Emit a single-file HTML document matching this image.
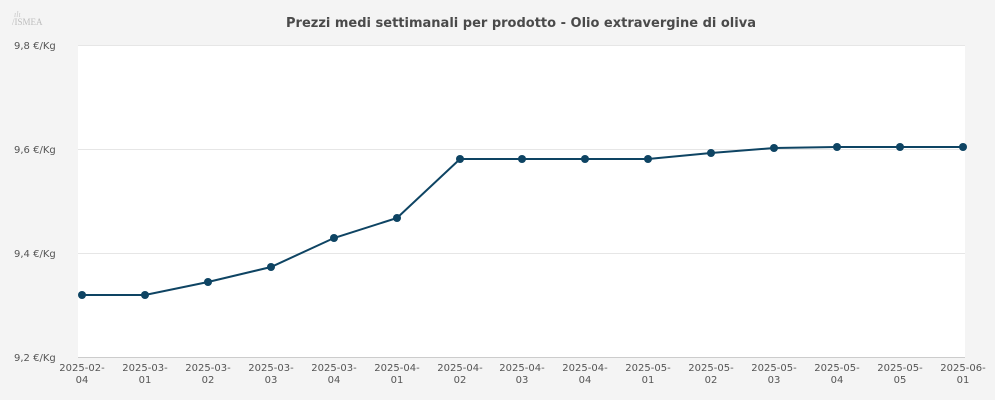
<!DOCTYPE html>
<html><head><meta charset="utf-8"><style>
body{margin:0;background:#f4f4f4;}
svg{display:block;font-family:"DejaVu Sans","Liberation Sans",sans-serif;}
</style></head><body>
<svg width="995" height="400" xmlns="http://www.w3.org/2000/svg">
<rect width="995" height="400" fill="#f4f4f4"/>
<text x="14" y="17" font-size="8" fill="#c8c8c8" font-family="Liberation Serif,serif" font-style="italic">ılı</text>
<text x="12" y="25" font-size="9" fill="#bdbdbd" font-family="Liberation Serif,serif">/ISMEA</text>
<text x="521" y="27" text-anchor="middle" font-size="13" font-weight="bold" fill="#4a4a4a">Prezzi medi settimanali per prodotto - Olio extravergine di oliva</text>
<rect x="78" y="45" width="887" height="312" fill="#fff"/>
<g stroke="#e6e6e6" stroke-width="1">
<line x1="78" y1="45.5" x2="965" y2="45.5"/>
<line x1="78" y1="149.5" x2="965" y2="149.5"/>
<line x1="78" y1="253.5" x2="965" y2="253.5"/>
<line x1="78" y1="357.5" x2="965" y2="357.5" stroke="#ccc"/>
</g>
<g font-size="10" fill="#555">
<text x="14" y="49">9,8 €/Kg</text>
<text x="14" y="153">9,6 €/Kg</text>
<text x="14" y="257">9,4 €/Kg</text>
<text x="14" y="361">9,2 €/Kg</text>
</g>
<g font-size="10" fill="#555" text-anchor="middle">
<text x="82" y="371">2025-02-</text><text x="82" y="383">04</text>
<text x="145" y="371">2025-03-</text><text x="145" y="383">01</text>
<text x="208" y="371">2025-03-</text><text x="208" y="383">02</text>
<text x="271" y="371">2025-03-</text><text x="271" y="383">03</text>
<text x="334" y="371">2025-03-</text><text x="334" y="383">04</text>
<text x="397" y="371">2025-04-</text><text x="397" y="383">01</text>
<text x="460" y="371">2025-04-</text><text x="460" y="383">02</text>
<text x="522" y="371">2025-04-</text><text x="522" y="383">03</text>
<text x="585" y="371">2025-04-</text><text x="585" y="383">04</text>
<text x="648" y="371">2025-05-</text><text x="648" y="383">01</text>
<text x="711" y="371">2025-05-</text><text x="711" y="383">02</text>
<text x="774" y="371">2025-05-</text><text x="774" y="383">03</text>
<text x="837" y="371">2025-05-</text><text x="837" y="383">04</text>
<text x="900" y="371">2025-05-</text><text x="900" y="383">05</text>
<text x="963" y="371">2025-06-</text><text x="963" y="383">01</text>
</g>
<polyline fill="none" stroke="#0e4463" stroke-width="2" points="82,295 145,295 208,282 271,267 334,238 397,218 460,159 522,159 585,159 648,159 711,153 774,148 837,147 900,147 963,147"/>
<g fill="#0e4463">
<circle cx="82" cy="295" r="4"/><circle cx="145" cy="295" r="4"/><circle cx="208" cy="282" r="4"/><circle cx="271" cy="267" r="4"/><circle cx="334" cy="238" r="4"/><circle cx="397" cy="218" r="4"/><circle cx="460" cy="159" r="4"/><circle cx="522" cy="159" r="4"/><circle cx="585" cy="159" r="4"/><circle cx="648" cy="159" r="4"/><circle cx="711" cy="153" r="4"/><circle cx="774" cy="148" r="4"/><circle cx="837" cy="147" r="4"/><circle cx="900" cy="147" r="4"/><circle cx="963" cy="147" r="4"/>
</g>
</svg>
</body></html>
